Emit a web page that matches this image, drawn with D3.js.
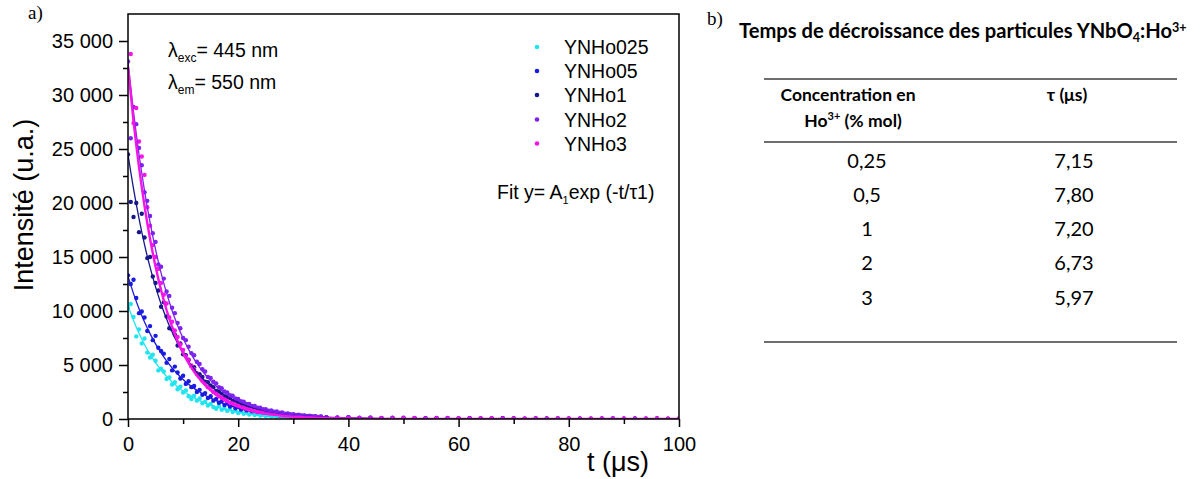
<!DOCTYPE html>
<html>
<head>
<meta charset="utf-8">
<script src="https://cdn.jsdelivr.net/npm/d3@7"></script>
<style>
  html, body { margin: 0; padding: 0; background: #fff; }
  svg { display: block; }
</style>
</head>
<body>
<svg id="chart" width="1201" height="479"></svg>
<script>
// ---------------- DATA ----------------
const seriesNames = ["YNHo025", "YNHo05", "YNHo1", "YNHo2", "YNHo3"];

// measurement times (µs)
const timesEarly = [0,0.5,1,1.5,2,2.5,3,3.5,4,4.5,5,5.5,6,6.5,7,7.5,8,8.5,9,9.5,
  10,10.5,11,11.5,12,12.5,13,13.5,14,14.5,15,15.5,16,16.5,17,17.5,18,18.5,19,19.5,
  20,20.5,21,21.5,22,22.5,23,23.5,24,24.5,25,25.5,26,26.5,27,27.5,28,28.5,29,29.5,
  30,30.5,31,31.5,32,32.5,33,33.5,34,34.5,35];
const timesTail = [36,38,40,42,44,46,48,50,52,54,56,58,60,62,64,66,68,70,72,74,76,78,80,
  82,84,86,88,90,92,94,96,98,100];

const ynho025 = [10300,10650,9450,7650,8300,7000,7450,6150,5700,5950,
  5400,4500,4650,4400,3700,3850,3200,3400,2750,3000,
  2450,2650,2100,1850,2150,1700,1900,1450,1600,1250,
  1400,1100,950,1200,850,1000,750,900,650,780,
  560,700,480,600,420,530,360,460,310,400,
  270,350,230,300,200,270,170,240,150,200,
  120,180,110,150,90,140,80,120,60,110,60,
  50,30,60,20,40,10,30,0,20,40,10,30,-10,20,0,30,10,-20,20,0,10,30,-10,10,20,0,30,10,-10,20,0,10,20];
const ynho05 = [13300,12500,12900,11200,9800,9950,9400,8150,8600,7300,
  7700,6600,6300,6050,5200,5550,4500,4850,4300,3750,
  4000,3250,3500,2950,3050,2500,2700,2250,2400,1950,
  2100,1700,1850,1500,1650,1300,1450,1150,1300,1000,
  1150,880,1000,780,900,680,780,600,700,520,
  620,450,540,400,480,350,420,300,380,260,
  330,220,290,200,260,170,230,150,200,130,180,
  130,90,140,60,100,80,50,110,40,70,90,30,60,80,20,50,70,40,10,60,30,50,20,40,10,30,60,20,40,10,50,20,30];
const ynho1 = [24500,20100,18700,20000,17300,19000,16800,14900,15000,13200,
  12600,11900,10400,10800,9500,8400,8300,7800,6800,7000,
  6000,5900,5500,4900,4800,4200,4150,3900,3450,3400,
  3100,2950,2600,2550,2350,2100,2050,1950,1700,1700,
  1550,1400,1400,1250,1150,1150,1000,950,900,800,
  800,700,700,600,600,520,530,450,460,390,
  400,340,350,290,310,250,270,220,240,190,210,
  170,120,150,90,110,70,100,50,80,60,40,70,30,50,60,20,40,50,10,30,40,20,30,10,20,30,0,20,30,10,20,0,10];
const ynho2 = [33100,26000,28900,27300,25100,23500,21000,20200,18800,17200,
  16400,14300,14100,13000,11800,11400,10300,9800,8900,8400,
  7500,7300,6700,6100,5900,5300,5100,4600,4400,3900,
  3800,3450,3300,2950,2850,2550,2450,2200,2150,1900,
  1850,1650,1600,1400,1400,1200,1200,1050,1050,900,
  900,780,800,680,690,590,600,500,520,430,
  450,370,390,320,340,280,300,240,260,200,230,
  170,140,160,110,130,90,110,70,100,60,80,90,50,70,40,60,80,30,50,60,20,40,50,30,20,40,60,30,10,40,50,20,30];
const ynho3 = [31800,33800,27400,28800,25700,24300,22600,19600,17900,16100,
  15000,13900,12600,11500,10700,9400,9000,8200,7600,6900,
  6400,5800,5450,4950,4600,4250,3900,3550,3300,2950,
  2800,2500,2350,2100,2000,1800,1700,1500,1450,1300,
  1220,1100,1050,930,880,780,750,660,630,550,
  530,460,450,390,380,330,320,280,270,230,
  230,190,190,160,160,140,130,120,110,100,100,
  80,60,70,50,40,60,30,50,40,20,50,30,40,20,30,40,10,30,20,30,10,20,30,10,20,10,30,20,10,20,30,10,20];

// mono-exponential fit curves, sampled
const fitTimes = [0,1,2,3,4,5,6,7,8,9,10,11,12,13,14,15,16,17,18,19,20,21,22,23,24,25,26,27,28,29,30,35,40,50,60,80,100];
const fit025 = [10500,9129,7938,6902,6001,5218,4537,3945,3430,2982,2593,2254,1960,1704,1482,1288,1120,974,847,736,640,557,484,421,366,318,277,241,209,182,158,78,39,9,2,0,0];
const fit05  = [13200,11612,10215,8986,7905,6954,6117,5381,4734,4164,3663,3222,2835,2494,2194,1930,1697,1493,1313,1155,1016,894,786,692,609,535,471,414,364,321,282,148,78,22,6,0,0];
const fit1   = [24500,21323,18559,16152,14058,12235,10649,9268,8066,7020,6110,5318,4628,4028,3506,3051,2656,2311,2012,1751,1524,1326,1154,1005,874,761,662,576,502,437,380,190,95,24,6,0,0];
const fit2   = [33000,28444,24517,21132,18215,15700,13532,11664,10054,8666,7469,6438,5549,4783,4123,3554,3063,2640,2276,1962,1691,1457,1256,1083,933,805,693,598,515,444,383,182,87,20,4,0,0];
const fit3   = [32600,27572,23321,19725,16683,14110,11934,10093,8536,7220,6106,5165,4368,3695,3125,2643,2235,1891,1599,1352,1144,967,818,692,585,495,419,354,299,253,214,93,40,8,1,0,0];

const xTicks = [0,20,40,60,80,100];
const xMinor = [10,30,50,70,90];
const yTicks = [0,5000,10000,15000,20000,25000,30000,35000];
const yMinor = [2500,7500,12500,17500,22500,27500,32500];

// table b)
const tableConc = ["0,25","0,5","1","2","3"];
const tableTau  = ["7,15","7,80","7,20","6,73","5,97"];

// ---------------- STYLE ----------------
const colors = ["#22e4ef","#1a1ae0","#17178c","#7d22ef","#f516e6"];
const SANS = "'Liberation Sans', Arial, sans-serif";
const SERIF = "'Liberation Serif', 'Times New Roman', serif";
const TFONT = "Lato, 'Open Sans', sans-serif";

const svg = d3.select("#chart");
const P = {left:128, top:14, right:679, bottom:419};
const x = d3.scaleLinear().domain([0,100]).range([P.left, P.right]);
const y = d3.scaleLinear().domain([0,37500]).range([P.bottom, P.top]);

const loc = d3.formatLocale({decimal:",", thousands:"\u2009", grouping:[3], currency:["",""]});
const fmtY = d => d === 0 ? "0" : loc.format(",d")(d).replace("\u2009"," ");

svg.append("defs").append("clipPath").attr("id","clip")
  .append("rect").attr("x",P.left).attr("y",P.top)
  .attr("width",P.right-P.left).attr("height",P.bottom-P.top);

const times = timesEarly.concat(timesTail);
const seriesVals = [ynho025, ynho05, ynho1, ynho2, ynho3];
const fitVals = [fit025, fit05, fit1, fit2, fit3];

const plot = svg.append("g").attr("clip-path","url(#clip)");

seriesVals.forEach((vals, i) => {
  plot.append("g").selectAll("circle")
    .data(vals.map((v,k) => [times[k], v]))
    .join("circle")
    .attr("cx", d => x(d[0]))
    .attr("cy", d => y(d[1]))
    .attr("r", 2.2)
    .attr("fill", colors[i]);
});

const line = d3.line().x(d => x(d[0])).y(d => y(d[1])).curve(d3.curveMonotoneX);
fitVals.forEach((vals, i) => {
  plot.append("path")
    .datum(vals.map((v,k) => [fitTimes[k], v]))
    .attr("d", line)
    .attr("fill","none")
    .attr("stroke", colors[i])
    .attr("stroke-width", i === 4 ? 2.4 : 1.3);
});

// axes
function styleAxis(g){
  g.select(".domain").remove();
  g.selectAll("line").attr("stroke","#000").attr("stroke-width",1.5);
  g.selectAll("text").attr("font-family",SANS).attr("font-size","20px").attr("fill","#000");
}
svg.append("g").attr("transform",`translate(${P.left},0)`)
  .call(d3.axisLeft(y).tickValues(yTicks).tickFormat(fmtY).tickSize(9).tickPadding(6))
  .call(styleAxis);
svg.append("g").attr("transform",`translate(${P.left},0)`)
  .call(d3.axisLeft(y).tickValues(yMinor).tickFormat("").tickSize(5))
  .call(styleAxis);
svg.append("g").attr("transform",`translate(0,${P.bottom})`)
  .call(d3.axisBottom(x).tickValues(xTicks).tickSize(8).tickPadding(10))
  .call(styleAxis);
svg.append("g").attr("transform",`translate(0,${P.bottom})`)
  .call(d3.axisBottom(x).tickValues(xMinor).tickFormat("").tickSize(5))
  .call(styleAxis);

svg.append("rect").attr("x",P.left).attr("y",P.top)
  .attr("width",P.right-P.left).attr("height",P.bottom-P.top)
  .attr("fill","none").attr("stroke","#000").attr("stroke-width",1.5);

// axis titles
svg.append("text").attr("transform","translate(33,205) rotate(-90)")
  .attr("text-anchor","middle").attr("font-family",SANS).attr("font-size","27px")
  .text("Intensité (u.a.)");
svg.append("text").attr("x",587).attr("y",471)
  .attr("font-family",SANS).attr("font-size","27px").text("t (\u03bcs)");

// panel labels
svg.append("text").attr("x",28).attr("y",19).attr("font-family",SERIF).attr("font-size","19px").text("a)");
svg.append("text").attr("x",707).attr("y",25).attr("font-family",SERIF).attr("font-size","19px").text("b)");

// lambda annotations
function lam(yb, sub, rest){
  const t = svg.append("text").attr("x",168).attr("y",yb).attr("font-family",SANS).attr("font-size","19.5px");
  t.append("tspan").text("\u03bb");
  t.append("tspan").attr("font-size","12px").attr("dy",5).text(sub);
  t.append("tspan").attr("dy",-5).text(rest);
}
lam(57, "exc", "= 445 nm");
lam(89, "em", "= 550 nm");

// legend
const legY = [47, 71, 95, 119.5, 143.5];
seriesNames.forEach((n,i) => {
  svg.append("circle").attr("cx",537).attr("cy",legY[i]).attr("r",2.3).attr("fill",colors[i]);
  svg.append("text").attr("x",564).attr("y",legY[i]+7).attr("font-family",SANS)
    .attr("font-size","19.5px").text(n);
});

// fit formula
{
  const t = svg.append("text").attr("x",497).attr("y",199).attr("font-family",SANS).attr("font-size","19.5px");
  t.append("tspan").text("Fit y= A");
  t.append("tspan").attr("font-size","11px").attr("dy",5).text("1");
  t.append("tspan").attr("dy",-5).text("exp (-t/\u03c41)");
}

// ---------------- TABLE ----------------
{
  const title = svg.append("text").attr("x",739).attr("y",38)
    .attr("font-family",TFONT).attr("font-weight","bold").attr("font-size","16px");
  title.append("tspan").text("Temps de décroissance des particules YNbO");
  title.append("tspan").attr("font-size","10px").attr("dy",4).text("4");
  title.append("tspan").attr("dy",-4).text(":Ho");
  title.append("tspan").attr("font-size","10px").attr("dy",-6).text("3+");
  const w = title.node().getComputedTextLength();
  const s = 448 / w;
  title.attr("font-size", (16*s)+"px");
  title.selectAll("tspan").filter((d,i)=> i===1 || i===3).attr("font-size",(10*s)+"px");

  const lineColor = "#6e6e6e";
  [79, 142, 342].forEach(yy => {
    svg.append("line").attr("x1",764).attr("x2",1177).attr("y1",yy).attr("y2",yy)
      .attr("stroke",lineColor).attr("stroke-width",2);
  });

  svg.append("text").attr("x",848).attr("y",101).attr("text-anchor","middle")
    .attr("font-family",TFONT).attr("font-weight","bold").attr("font-size","17.5px")
    .text("Concentration en");
  const h2 = svg.append("text").attr("x",853).attr("y",127).attr("text-anchor","middle")
    .attr("font-family",TFONT).attr("font-weight","bold").attr("font-size","17.5px");
  h2.append("tspan").text("Ho");
  h2.append("tspan").attr("font-size","11px").attr("dy",-7).text("3+");
  h2.append("tspan").attr("dy",7).text(" (% mol)");
  svg.append("text").attr("x",1067).attr("y",101).attr("text-anchor","middle")
    .attr("font-family",TFONT).attr("font-weight","bold").attr("font-size","17.5px")
    .text("\u03c4 (\u03bcs)");

  const rowY = [168, 202, 236, 270, 305];
  tableConc.forEach((c,i) => {
    svg.append("text").attr("x",867).attr("y",rowY[i]).attr("text-anchor","middle")
      .attr("font-family",TFONT).attr("font-size","20px").text(c);
    svg.append("text").attr("x",1074).attr("y",rowY[i]).attr("text-anchor","middle")
      .attr("font-family",TFONT).attr("font-size","20px").text(tableTau[i]);
  });
}
</script>
</body>
</html>
